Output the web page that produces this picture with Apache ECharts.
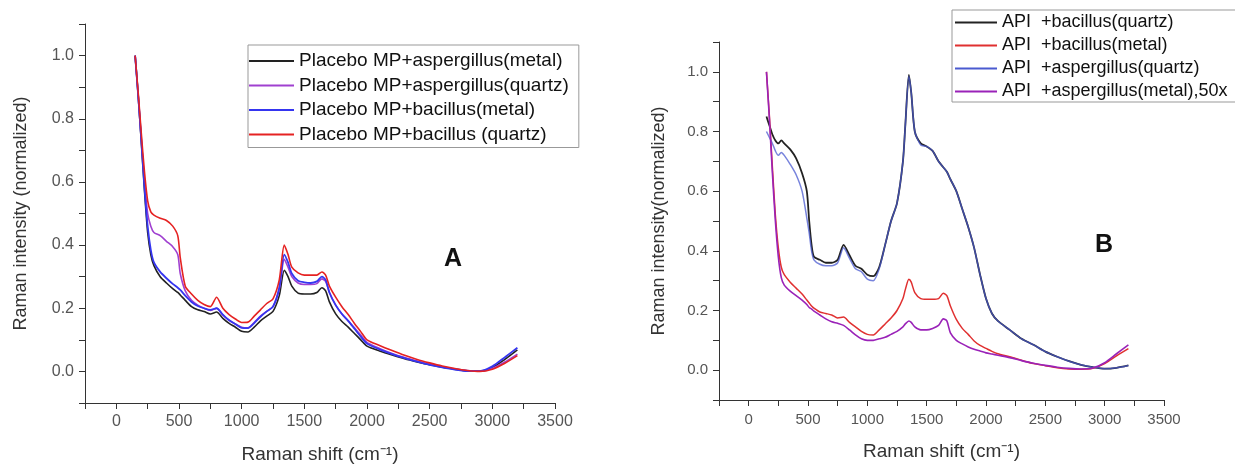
<!DOCTYPE html>
<html>
<head>
<meta charset="utf-8">
<script src="https://cdn.jsdelivr.net/npm/echarts@6/dist/echarts.min.js"></script>
<style>
html,body{margin:0;padding:0;background:#fff;}
#chart{width:1235px;height:466px;}
</style>
</head>
<body>
<div id="chart"></div>
<script>
// ---------- data ----------
const xA = [150,175,200,225,250,275,300,350,400,450,490,510,550,600,650,700,750,800,850,900,950,1000,1050,1100,1150,1200,1250,1300,1340,1370,1400,1450,1500,1550,1600,1640,1670,1700,1750,1800,1850,1900,1950,2000,2100,2200,2300,2400,2500,2600,2700,2800,2900,3000,3100,3200];
const aAspMetal = [1.0,0.87,0.72,0.57,0.44,0.37,0.335,0.3,0.28,0.262,0.25,0.242,0.225,0.205,0.195,0.19,0.182,0.188,0.168,0.152,0.14,0.127,0.125,0.14,0.16,0.175,0.19,0.24,0.32,0.3,0.27,0.248,0.245,0.245,0.25,0.265,0.255,0.22,0.182,0.158,0.14,0.12,0.1,0.08,0.065,0.052,0.04,0.03,0.021,0.013,0.007,0.002,0.001,0.012,0.038,0.068];
const aAspQuartz = [1.0,0.87,0.73,0.6,0.5,0.46,0.44,0.43,0.412,0.395,0.37,0.31,0.255,0.225,0.21,0.2,0.193,0.2,0.178,0.162,0.15,0.14,0.138,0.155,0.175,0.19,0.205,0.26,0.355,0.33,0.3,0.28,0.275,0.275,0.278,0.293,0.285,0.25,0.21,0.182,0.16,0.138,0.115,0.092,0.073,0.057,0.044,0.033,0.023,0.015,0.008,0.003,0.001,0.01,0.03,0.055];
const aBacMetal = [1.0,0.87,0.73,0.58,0.46,0.385,0.345,0.315,0.295,0.277,0.265,0.258,0.24,0.22,0.207,0.2,0.195,0.2,0.18,0.162,0.15,0.138,0.137,0.153,0.173,0.19,0.205,0.265,0.37,0.345,0.31,0.287,0.282,0.28,0.285,0.3,0.29,0.25,0.21,0.182,0.16,0.135,0.11,0.088,0.07,0.055,0.042,0.031,0.021,0.013,0.006,0.001,0.001,0.016,0.045,0.075];
const aBacQuartz = [1.0,0.88,0.75,0.63,0.54,0.505,0.495,0.485,0.478,0.46,0.43,0.36,0.27,0.245,0.225,0.212,0.205,0.235,0.2,0.18,0.166,0.155,0.156,0.175,0.195,0.215,0.23,0.29,0.4,0.37,0.33,0.312,0.305,0.305,0.305,0.315,0.305,0.27,0.235,0.205,0.18,0.152,0.126,0.1,0.082,0.066,0.051,0.038,0.027,0.017,0.009,0.003,0.0,0.007,0.026,0.05];

const xB = [150,175,200,225,250,275,300,350,400,450,490,510,530,550,600,650,700,750,800,850,900,950,1000,1050,1100,1150,1200,1250,1300,1320,1350,1370,1400,1450,1500,1550,1600,1640,1670,1700,1750,1800,1850,1900,1950,2000,2050,2100,2200,2300,2400,2500,2600,2700,2800,2900,3000,3100,3200];
const bBacQuartz = [0.85,0.82,0.79,0.77,0.76,0.77,0.76,0.74,0.71,0.66,0.6,0.5,0.42,0.38,0.37,0.36,0.36,0.37,0.42,0.385,0.35,0.34,0.32,0.315,0.345,0.42,0.5,0.56,0.7,0.82,0.99,0.93,0.8,0.76,0.75,0.735,0.7,0.68,0.665,0.64,0.6,0.54,0.48,0.41,0.32,0.24,0.19,0.165,0.135,0.105,0.085,0.062,0.045,0.03,0.018,0.01,0.005,0.008,0.016];
const bBacMetal = [1.0,0.85,0.68,0.52,0.41,0.345,0.32,0.295,0.275,0.255,0.235,0.225,0.215,0.208,0.195,0.19,0.185,0.175,0.178,0.16,0.145,0.13,0.12,0.118,0.135,0.155,0.175,0.2,0.24,0.27,0.305,0.295,0.26,0.24,0.238,0.238,0.24,0.258,0.25,0.215,0.17,0.14,0.12,0.098,0.083,0.073,0.063,0.055,0.045,0.033,0.022,0.015,0.008,0.004,0.003,0.006,0.022,0.048,0.072];
const bAspQuartz = [0.8,0.78,0.76,0.735,0.72,0.73,0.72,0.69,0.655,0.6,0.51,0.46,0.4,0.37,0.355,0.35,0.35,0.36,0.41,0.375,0.34,0.33,0.305,0.3,0.34,0.42,0.5,0.56,0.7,0.82,0.985,0.93,0.8,0.755,0.75,0.735,0.7,0.68,0.665,0.64,0.6,0.54,0.48,0.41,0.32,0.24,0.19,0.165,0.135,0.105,0.085,0.062,0.045,0.03,0.018,0.01,0.005,0.008,0.016];
const bAspMetal = [1.0,0.84,0.66,0.5,0.38,0.31,0.285,0.265,0.25,0.235,0.22,0.21,0.205,0.198,0.185,0.172,0.162,0.157,0.15,0.135,0.118,0.105,0.1,0.1,0.105,0.11,0.12,0.13,0.145,0.155,0.165,0.16,0.145,0.135,0.135,0.14,0.15,0.172,0.165,0.125,0.1,0.088,0.078,0.07,0.064,0.058,0.054,0.05,0.042,0.032,0.023,0.016,0.01,0.006,0.004,0.007,0.025,0.055,0.085];

const namesA = ['Placebo MP+aspergillus(metal)','Placebo MP+aspergillus(quartz)','Placebo MP+bacillus(metal)','Placebo MP+bacillus (quartz)'];
const namesB = ['API  +bacillus(quartz)','API  +bacillus(metal)','API  +aspergillus(quartz)','API  +aspergillus(metal),50x'];
const xTitle = 'Raman shift (cm\u207B\u00B9)';
const yTitleA = 'Raman intensity (normalized)';
const yTitleB = 'Raman intensity(normalized)';

// ---------- chart ----------
const FONT = 'Liberation Sans, Arial, sans-serif';
const zip = (xs, ys) => xs.map((x, i) => [x, ys[i]]);

function xAxisDef(gi, fs, lblMargin, gap){
  return {
    type:'value', gridIndex:gi, min:-250, max:3500, interval:250,
    name:xTitle, nameLocation:'middle', nameGap:gap,
    nameTextStyle:{fontFamily:FONT, fontSize:19, color:'#333'},
    axisLine:{show:true, onZero:false, lineStyle:{color:'#333', width:1}},
    axisTick:{show:true, inside:false, length:6, lineStyle:{color:'#333'}},
    axisLabel:{fontFamily:FONT, fontSize:fs, color:'#555', margin:lblMargin,
      formatter:v => (v >= 0 && v % 500 === 0) ? String(v) : ''},
    splitLine:{show:false}
  };
}
function yAxisDef(gi, title, gap, fs){
  return {
    type:'value', gridIndex:gi, min:-0.1, max:1.1, interval:0.1,
    name:title, nameLocation:'middle', nameGap:gap, nameRotate:90,
    nameTextStyle:{fontFamily:FONT, fontSize:18, color:'#333'},
    axisLine:{show:true, onZero:false, lineStyle:{color:'#333', width:1}},
    axisTick:{show:true, inside:false, length:6, lineStyle:{color:'#333'}},
    axisLabel:{fontFamily:FONT, fontSize:fs, color:'#555', margin:11,
      formatter:v => {
        const k = Math.round(v * 10);
        return (k >= 0 && k <= 10 && k % 2 === 0) ? (k / 10).toFixed(1) : '';
      }},
    splitLine:{show:false}
  };
}
function line(name, xs, ys, gi, color, width, opacity){
  return {
    name, type:'line', xAxisIndex:gi, yAxisIndex:gi, data:zip(xs, ys),
    showSymbol:false, symbol:'none', smooth:0.25, silent:true,
    lineStyle:{color, width, opacity: opacity == null ? 1 : opacity},
    itemStyle:{color}
  };
}

const chart = echarts.init(document.getElementById('chart'), null, {renderer:'canvas'});
chart.setOption({
  backgroundColor:'#fff',
  animation:false,
  grid:[
    {left:85, top:24, width:470, height:379, containLabel:false, outerBoundsMode:'none'},
    {left:719, top:42, width:445, height:358, containLabel:false, outerBoundsMode:'none'}
  ],
  xAxis:[xAxisDef(0, 16, 11, 42), xAxisDef(1, 15, 12, 42)],
  yAxis:[yAxisDef(0, yTitleA, 55, 16), yAxisDef(1, yTitleB, 51, 15)],
  legend:[
    {data:namesA, left:248, top:45, orient:'vertical', icon:'rect', itemWidth:45, itemHeight:2, itemGap:4.5,
     padding:[6,10,3,1], borderColor:'#999', borderWidth:1, backgroundColor:'#fff',
     textStyle:{fontFamily:FONT, fontSize:19, color:'#111', lineHeight:20}, selectedMode:false},
    {data:namesB, left:952, top:10, orient:'vertical', icon:'rect', itemWidth:42, itemHeight:2, itemGap:4,
     padding:[3,10,1,3], borderColor:'#999', borderWidth:1, backgroundColor:'#fff',
     textStyle:{fontFamily:FONT, fontSize:18, color:'#111', lineHeight:19}, selectedMode:false}
  ],
  graphic:[
    {type:'text', left:444, top:247, style:{text:'A', font:'bold 25px Liberation Sans, Arial', fill:'#111'}},
    {type:'text', left:1095, top:233, style:{text:'B', font:'bold 25px Liberation Sans, Arial', fill:'#111'}}
  ],
  series:[
    line(namesA[0], xA, aAspMetal, 0, '#222222', 1.6),
    line(namesA[1], xA, aAspQuartz, 0, '#a040d0', 1.6),
    line(namesA[2], xA, aBacMetal, 0, '#3535f0', 1.8),
    line(namesA[3], xA, aBacQuartz, 0, '#e52222', 1.6),
    line(namesB[0], xB, bBacQuartz, 1, '#222222', 1.8),
    line(namesB[1], xB, bBacMetal, 1, '#e03030', 1.5),
    line(namesB[2], xB, bAspQuartz, 1, '#4a5ad0', 1.5, 0.75),
    line(namesB[3], xB, bAspMetal, 1, '#9a22b8', 1.6)
  ]
});
</script>
</body>
</html>
